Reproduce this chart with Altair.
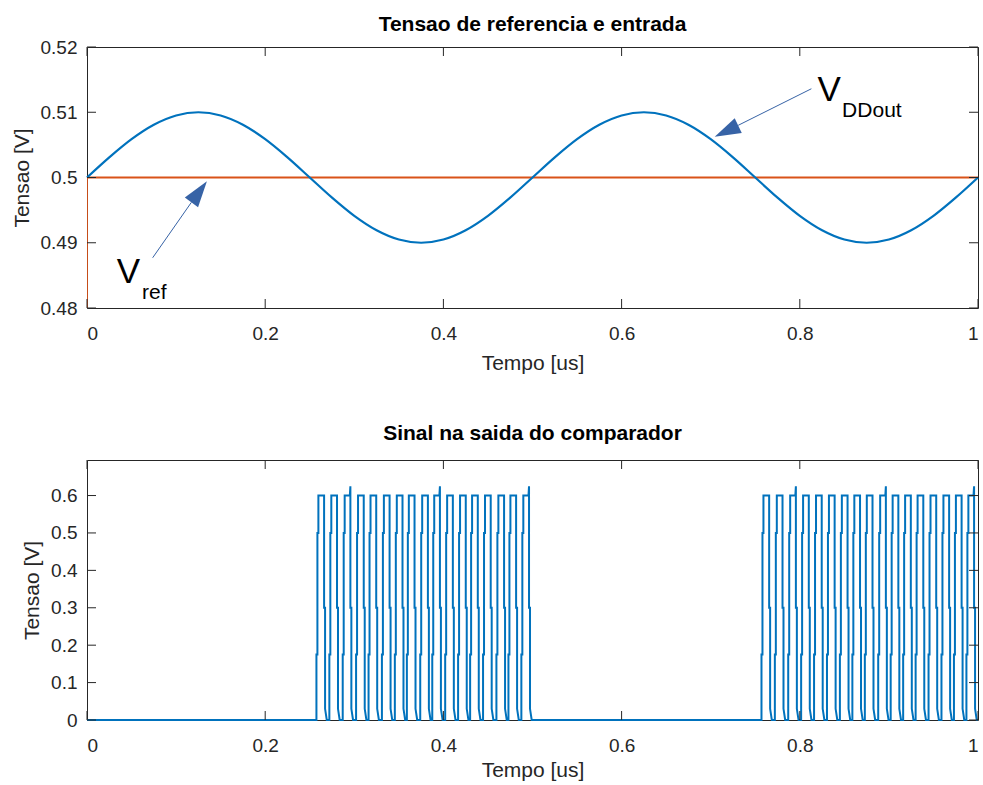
import altair as alt
import pandas as pd

FONT = "Liberation Sans"
BLUE = "#0072BD"
ORANGE = "#D95319"
ARROW = "#3763a6"
AXC = "#262626"

# ---------------- data: top panel ----------------
t_in = [0.000, 0.025, 0.050, 0.075, 0.100, 0.125, 0.150, 0.175, 0.200, 0.225,
        0.250, 0.275, 0.300, 0.325, 0.350, 0.375, 0.400, 0.425, 0.450, 0.475,
        0.500, 0.525, 0.550, 0.575, 0.600, 0.625, 0.650, 0.675, 0.700, 0.725,
        0.750, 0.775, 0.800, 0.825, 0.850, 0.875, 0.900, 0.925, 0.950, 0.975,
        1.000]
v_in = [0.50000, 0.50309, 0.50588, 0.50809, 0.50951, 0.51000, 0.50951, 0.50809, 0.50588, 0.50309,
        0.50000, 0.49691, 0.49412, 0.49191, 0.49049, 0.49000, 0.49049, 0.49191, 0.49412, 0.49691,
        0.50000, 0.50309, 0.50588, 0.50809, 0.50951, 0.51000, 0.50951, 0.50809, 0.50588, 0.50309,
        0.50000, 0.49691, 0.49412, 0.49191, 0.49049, 0.49000, 0.49049, 0.49191, 0.49412, 0.49691,
        0.50000]
t_ref = [0.0, 0.0, 1.0]
v_ref = [0.48, 0.50, 0.50]

# ---------------- data: bottom panel ----------------
rise_times = [0.2575, 0.2720, 0.2870, 0.3020, 0.3160, 0.3310, 0.3455, 0.3590, 0.3740,
              0.3875, 0.4020, 0.4165, 0.4300, 0.4445, 0.4595, 0.4730, 0.4875,
              0.7570, 0.7720, 0.7870, 0.8015, 0.8160, 0.8305, 0.8450, 0.8590, 0.8730,
              0.8880, 0.9020, 0.9160, 0.9300, 0.9445, 0.9590, 0.9730, 0.9870]
fall_times = [0.2661, 0.2806, 0.2956, 0.3106, 0.3246, 0.3396, 0.3541, 0.3676, 0.3826,
              0.3961, 0.4106, 0.4251, 0.4386, 0.4531, 0.4681, 0.4816, 0.4961,
              0.7656, 0.7806, 0.7956, 0.8101, 0.8246, 0.8391, 0.8536, 0.8676, 0.8816,
              0.8966, 0.9106, 0.9246, 0.9386, 0.9531, 0.9676, 0.9816, 0.9956]
high_level = 0.6
spike_level = [0.6, 0.6, 0.625, 0.6, 0.6, 0.6, 0.6, 0.6, 0.6, 0.625, 0.6, 0.6, 0.6, 0.6, 0.6, 0.6, 0.625,
               0.6, 0.6, 0.625, 0.6, 0.6, 0.6, 0.6, 0.6, 0.6, 0.625, 0.6, 0.6, 0.6, 0.6, 0.6, 0.6, 0.625]
# staircase steps seen on the edges (time offset, level)
rise_steps = [(0.0, 0.0), (0.0, 0.175), (0.0011, 0.175), (0.0011, 0.50), (0.0022, 0.50)]
fall_steps = [(0.0, 0.30), (0.0011, 0.30), (0.0011, 0.03), (0.0030, 0.0)]

x_ticks = [0, 0.2, 0.4, 0.6, 0.8, 1.0]
y1_ticks = [0.48, 0.49, 0.50, 0.51, 0.52]
y2_ticks = [0, 0.1, 0.2, 0.3, 0.4, 0.5, 0.6]

# ---------------- build tables ----------------
df_in = pd.DataFrame({"t": t_in, "v": v_in})
df_ref = pd.DataFrame({"t": t_ref, "v": v_ref, "i": list(range(len(t_ref)))})

pts = [(0.0, 0.0)]
for r, f, s in zip(rise_times, fall_times, spike_level):
    for dt, lv in rise_steps:
        pts.append((r + dt, lv))
    pts.append((r + 0.0022, high_level))
    if s > high_level:
        pts.append((f - 0.0006, high_level))
        pts.append((f, s))
    else:
        pts.append((f, high_level))
    for dt, lv in fall_steps:
        pts.append((f + dt, lv))
pts.append((1.0, 0.0))
df_out = pd.DataFrame({"t": [p[0] for p in pts], "v": [p[1] for p in pts],
                       "i": list(range(len(pts)))})

W, H1, H2 = 891, 261, 260
TL = 9  # inner tick length

def xaxis(tpad):
    return alt.Axis(values=x_ticks, format=".1~f", ticks=False, domain=False, grid=False,
                    labelFontSize=19, labelPadding=16, title="Tempo [us]",
                    labelFont=FONT, titleFont=FONT, labelColor=AXC, titleColor=AXC,
                    titleFontSize=21, titleFontWeight="normal", titlePadding=tpad)

def yaxis(vals, fmt):
    return alt.Axis(values=vals, format=fmt, ticks=False, domain=False, grid=False,
                    labelFontSize=19, labelPadding=10, title="Tensao [V]",
                    labelFont=FONT, titleFont=FONT, labelColor=AXC, titleColor=AXC,
                    titleFontSize=21, titleFontWeight="normal", titlePadding=8)

def inner_ticks(xvals, yvals, ydom, H):
    xs = pd.DataFrame({"t": xvals})
    ys = pd.DataFrame({"v": yvals})
    xsc = alt.Scale(domain=[0, 1], nice=False)
    ysc = alt.Scale(domain=ydom, nice=False, zero=False)
    style = dict(color=AXC, strokeWidth=1)
    xb = alt.Chart(xs).mark_rule(**style).encode(
        x=alt.X("t:Q", scale=xsc), y=alt.value(H), y2=alt.value(H - TL))
    xt = alt.Chart(xs).mark_rule(**style).encode(
        x=alt.X("t:Q", scale=xsc), y=alt.value(0), y2=alt.value(TL))
    yl = alt.Chart(ys).mark_rule(**style).encode(
        y=alt.Y("v:Q", scale=ysc), x=alt.value(0), x2=alt.value(TL))
    yr = alt.Chart(ys).mark_rule(**style).encode(
        y=alt.Y("v:Q", scale=ysc), x=alt.value(W - TL), x2=alt.value(W))
    return [xb, xt, yl, yr]

# ---------------- top panel ----------------
xs1 = alt.Scale(domain=[0, 1], nice=False)
ys1 = alt.Scale(domain=[0.48, 0.52], nice=False, zero=False)

ref_line = alt.Chart(df_ref).mark_line(color=ORANGE, strokeWidth=1.8, clip=True).encode(
    x=alt.X("t:Q", scale=xs1, axis=xaxis(9)),
    y=alt.Y("v:Q", scale=ys1, axis=yaxis(y1_ticks, ".2~f")),
    order="i:Q")
in_line = alt.Chart(df_in).mark_line(color=BLUE, strokeWidth=2.2, interpolate="monotone").encode(
    x=alt.X("t:Q", scale=xs1), y=alt.Y("v:Q", scale=ys1))

# annotations
ann_shaft = pd.DataFrame({"t": [0.0737, 0.1172, 0.8130, 0.7309],
                          "v": [0.4877, 0.4962, 0.5136, 0.5080],
                          "g": ["ref", "ref", "dd", "dd"]})
ann_head = pd.DataFrame({"t": [0.1259, 0.7177], "v": [0.4978, 0.5071], "ang": [36.4, 244.5]})
ann_big = pd.DataFrame({"t": [0.0333, 0.8198], "v": [0.4839, 0.5117], "txt": ["V", "V"]})
ann_sub = pd.DataFrame({"t": [0.0617, 0.8475], "v": [0.4814, 0.5092], "txt": ["ref", "DDout"]})

shaft = alt.Chart(ann_shaft).mark_line(color=ARROW, strokeWidth=1).encode(
    x=alt.X("t:Q", scale=xs1), y=alt.Y("v:Q", scale=ys1), detail="g:N")
head = alt.Chart(ann_head).mark_point(
    shape="M0,-1L0.63,1L-0.63,1Z", filled=True, color=ARROW, opacity=1, size=680, strokeWidth=0
).encode(x=alt.X("t:Q", scale=xs1), y=alt.Y("v:Q", scale=ys1), angle=alt.Angle("ang:Q", scale=None))
big = alt.Chart(ann_big).mark_text(font=FONT, fontSize=35, align="left", baseline="alphabetic",
                                   color="black").encode(
    x=alt.X("t:Q", scale=xs1), y=alt.Y("v:Q", scale=ys1), text="txt:N")
sub = alt.Chart(ann_sub).mark_text(font=FONT, fontSize=21, align="left", baseline="alphabetic",
                                   color="black").encode(
    x=alt.X("t:Q", scale=xs1), y=alt.Y("v:Q", scale=ys1), text="txt:N")

top = alt.layer(ref_line, in_line, *inner_ticks(x_ticks, y1_ticks, [0.48, 0.52], H1),
                shaft, head, big, sub).properties(
    width=W, height=H1,
    title=alt.TitleParams("Tensao de referencia e entrada", font=FONT, fontSize=21,
                          fontWeight="bold", color="black", offset=3))

# ---------------- bottom panel ----------------
xs2 = alt.Scale(domain=[0, 1], nice=False)
ys2 = alt.Scale(domain=[0, 0.695], nice=False, zero=False)
out_line = alt.Chart(df_out).mark_line(color=BLUE, strokeWidth=2).encode(
    x=alt.X("t:Q", scale=xs2, axis=xaxis(4)),
    y=alt.Y("v:Q", scale=ys2, axis=yaxis(y2_ticks, ".1~f")),
    order="i:Q")

bottom = alt.layer(out_line, *inner_ticks(x_ticks, y2_ticks, [0, 0.695], H2)).properties(
    width=W, height=H2,
    title=alt.TitleParams("Sinal na saida do comparador", font=FONT, fontSize=21,
                          fontWeight="bold", color="black", offset=16))

chart = alt.vconcat(top, bottom, spacing=48).properties(
    padding={"left": 10, "top": 13, "right": -3, "bottom": 0},
    background="white"
).configure_view(stroke=AXC, strokeWidth=1)

chart.save("out.html", embed_options={"renderer": "svg", "actions": False})
